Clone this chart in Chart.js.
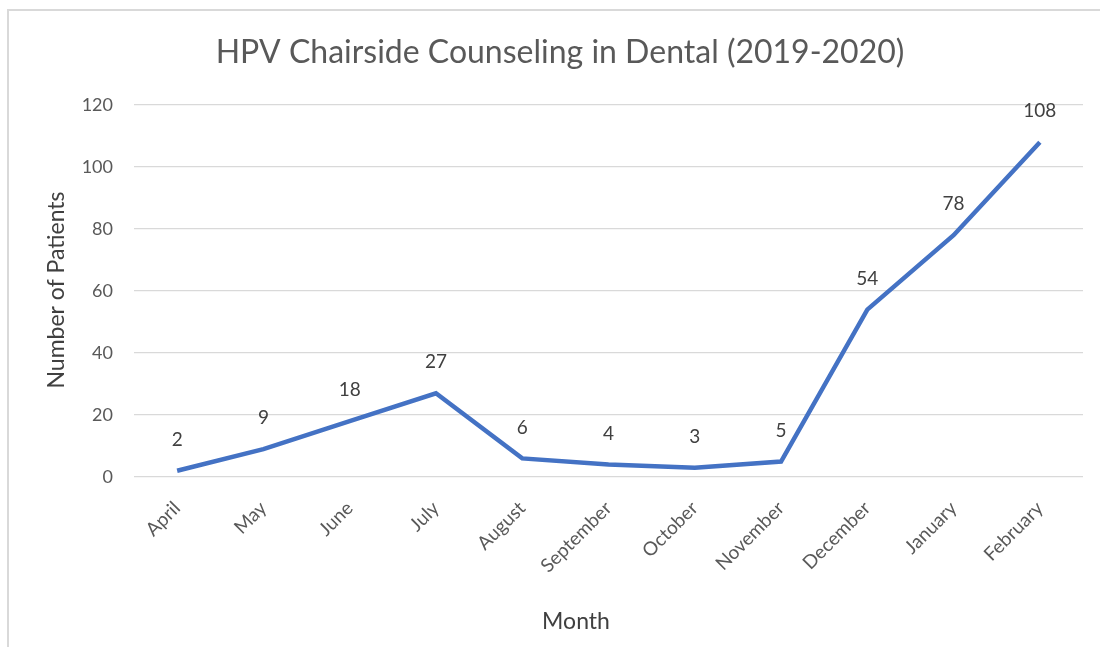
<!DOCTYPE html>
<html>
<head>
<meta charset="utf-8">
<script src="https://cdn.jsdelivr.net/npm/chart.js@4/dist/chart.umd.min.js"></script>
<style>
html,body{margin:0;padding:0;background:#fff;}
#wrap{width:1100px;height:647px;position:relative;}
</style>
</head>
<body>
<div id="wrap"><canvas id="c" width="1100" height="647"></canvas></div>
<script>
const months = ["April","May","June","July","August","September","October","November","December","January","February"];
const patients = [2, 9, 18, 27, 6, 4, 3, 5, 54, 78, 108];
const yTicks = [0, 20, 40, 60, 80, 100, 120];
const chartTitle = "HPV Chairside Counseling in Dental (2019-2020)";
const xTitle = "Month";
const yTitle = "Number of Patients";

const FONT = "Lato, 'Open Sans', sans-serif";

const framePlugin = {
  id: 'frame',
  beforeDraw(chart) {
    const ctx = chart.ctx;
    ctx.save();
    ctx.fillStyle = '#fff';
    ctx.fillRect(0, 0, chart.width, chart.height);
    ctx.strokeStyle = '#d9d9d9';
    ctx.lineWidth = 2;
    ctx.beginPath();
    ctx.moveTo(8, 647);
    ctx.lineTo(8, 10);
    ctx.lineTo(1100, 10);
    ctx.stroke();
    ctx.fillStyle = '#595959';
    ctx.font = "32px " + FONT;
    ctx.textAlign = 'center';
    ctx.textBaseline = 'middle';
    ctx.fillText(chartTitle, 560, 53);
    ctx.fillStyle = '#404040';
    ctx.font = "23px " + FONT;
    ctx.fillText(xTitle, 576, 622);
    ctx.translate(57, 290);
    ctx.rotate(-Math.PI / 2);
    ctx.fillText(yTitle, 0, 0);
    ctx.restore();
  }
};

const labelPlugin = {
  id: 'valueLabels',
  afterDatasetsDraw(chart) {
    const ctx = chart.ctx;
    const meta = chart.getDatasetMeta(0);
    ctx.save();
    ctx.fillStyle = '#404040';
    ctx.font = "19px " + FONT;
    ctx.textAlign = 'center';
    ctx.textBaseline = 'middle';
    meta.data.forEach((pt, i) => {
      ctx.fillText(String(chart.data.datasets[0].data[i]), pt.x, pt.y - 31);
    });
    ctx.restore();
  }
};

new Chart(document.getElementById('c'), {
  type: 'line',
  data: {
    labels: months,
    datasets: [{
      data: patients,
      borderColor: '#4472C4',
      borderWidth: 4.5,
      pointRadius: 0,
      pointHoverRadius: 0,
      tension: 0,
      fill: false
    }]
  },
  options: {
    responsive: false,
    animation: false,
    layout: { padding: { left: 8, right: 17, top: 105, bottom: 0 } },
    plugins: { legend: { display: false }, tooltip: { enabled: false }, title: { display: false } },
    scales: {
      x: {
        offset: true,
        grid: { display: false, drawTicks: false },
        border: { display: false },
        ticks: {
          color: '#595959',
          font: { family: FONT, size: 19 },
          minRotation: 45, maxRotation: 45,
          padding: 20,
          autoSkip: false
        },
        afterFit(s) { s.height = 170; }
      },
      y: {
        min: 0, max: 120,
        afterBuildTicks(s) { s.ticks = yTicks.map(v => ({ value: v })); },
        grid: { color: '#d9d9d9', lineWidth: 1.3, drawTicks: false },
        border: { display: false },
        ticks: {
          color: '#595959',
          font: { family: FONT, size: 18 },
          padding: 21
        },
        afterFit(s) { s.width = 126; }
      }
    }
  },
  plugins: [framePlugin, labelPlugin]
});
</script>
</body>
</html>
